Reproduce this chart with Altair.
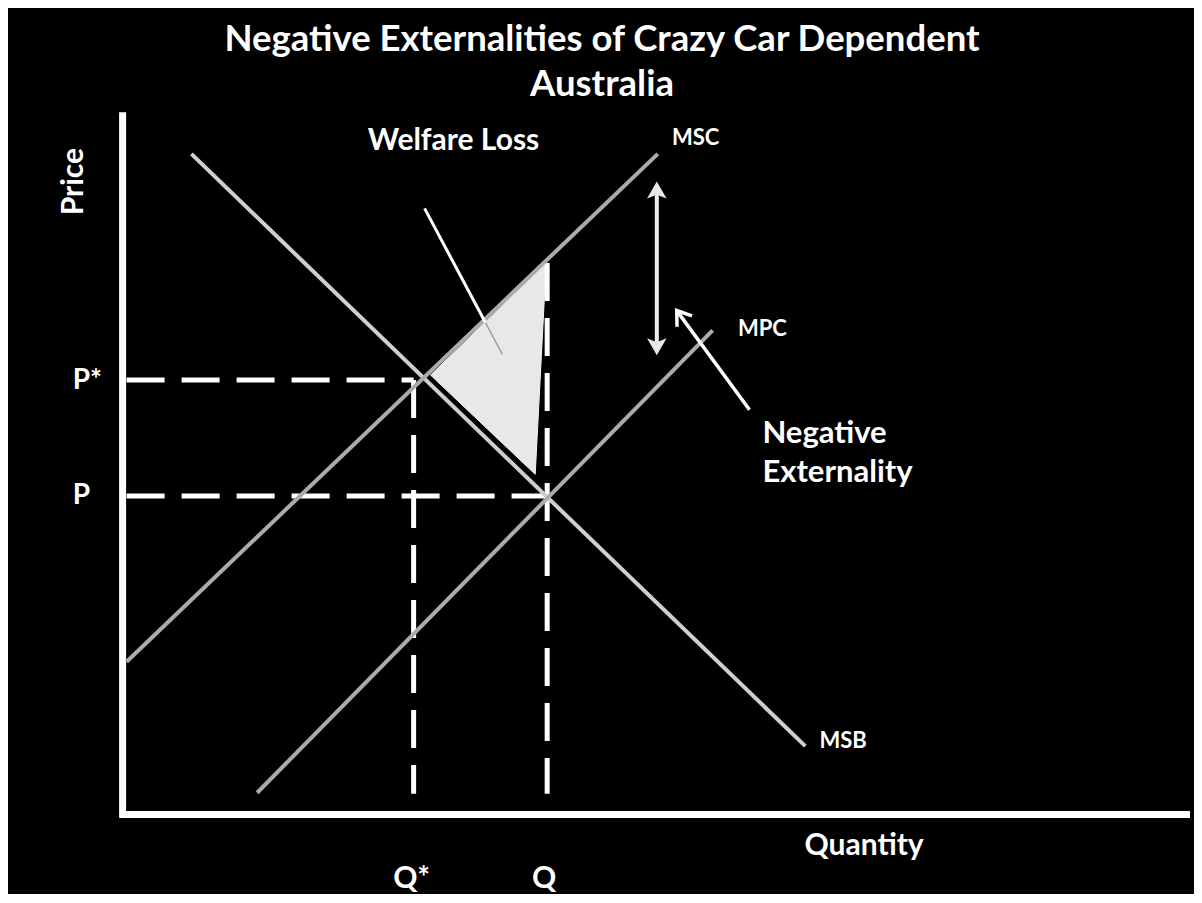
import altair as alt
import pandas as pd

# ---- diagram values (quantity / price units) ----
title_lines = ["Negative Externalities of Crazy Car Dependent", "Australia"]
title_y = [78.1, 73.5]

curve_names = ["MSB", "MSC", "MPC"]
curve_x0 = [6.9, 0.4, 13.5]
curve_y0 = [66.6, 15.4, 2.2]
curve_x1 = [68.5, 53.7, 59.2]
curve_y1 = [6.9, 66.6, 48.8]
curve_colors = ["#cfcfcf", "#ababab", "#ababab"]

curve_label_x = [72.3, 57.5, 64.2]
curve_label_y = [7.4, 68.2, 48.9]

q_star, q_eq = 29.2, 42.6
p_star, p_eq = 43.8, 32.1
dash_bottom = 2.1
q_top = 55.6
axis_left = 0.4

tri_x = [30.9, 42.5, 41.4]
tri_y = [44.3, 55.6, 34.3]

price_top = 70.8
x_right = 107.1

ext_arrow_x = 53.6
ext_arrow_top = 63.8
ext_arrow_bottom = 46.3

neg_tail = (62.9, 40.8)
neg_tip = (55.6, 50.8)

wl_pointer = [(30.3, 61.1), (36.4, 49.6)]
wl_faint = [(36.4, 49.6), (38.1, 46.4)]

xs = alt.Scale(domain=[-11.5, 107.1], nice=False, zero=False)
ys = alt.Scale(domain=[-7.3, 81.3], nice=False, zero=False)
FONT = "Lato"


def X(f="x"):
    return alt.X(f"{f}:Q", scale=xs, axis=None)


def Y(f="y"):
    return alt.Y(f"{f}:Q", scale=ys, axis=None)


layers = []

# axes lines
axes_df = pd.DataFrame({"x": [0, -0.3], "x2": [0, x_right], "y": [-0.3, 0], "y2": [price_top, 0]})
layers.append(alt.Chart(axes_df).mark_rule(color="white", strokeWidth=7).encode(
    x=X(), x2="x2:Q", y=Y(), y2="y2:Q"))

# welfare loss triangle
tri_df = pd.DataFrame({"x": tri_x, "y": tri_y, "o": [0, 1, 2]})
layers.append(alt.Chart(tri_df).mark_line(filled=True, fill="#e8e8e8", stroke="#f4f4f4", strokeWidth=1,
                                          interpolate="linear-closed").encode(
    x=X(), y=Y(), order="o:O"))

# dashed guide lines
dash_df = pd.DataFrame({
    "x": [axis_left, axis_left, q_star, q_eq],
    "x2": [q_star, q_eq, q_star, q_eq],
    "y": [p_star, p_eq, p_star, q_top],
    "y2": [p_star, p_eq, dash_bottom, dash_bottom],
})
layers.append(alt.Chart(dash_df).mark_rule(color="white", strokeWidth=5, strokeDash=[38, 17]).encode(
    x=X(), x2="x2:Q", y=Y(), y2="y2:Q"))

# curves
curve_df = pd.DataFrame({"name": curve_names, "x": curve_x0, "y": curve_y0,
                         "x2": curve_x1, "y2": curve_y1})
layers.append(alt.Chart(curve_df).mark_rule(strokeWidth=4).encode(
    x=X(), x2="x2:Q", y=Y(), y2="y2:Q",
    color=alt.Color("name:N", scale=alt.Scale(domain=curve_names, range=curve_colors), legend=None)))

# welfare loss pointer
wl_df = pd.DataFrame({"x": [wl_pointer[0][0]], "y": [wl_pointer[0][1]],
                      "x2": [wl_pointer[1][0]], "y2": [wl_pointer[1][1]]})
layers.append(alt.Chart(wl_df).mark_rule(color="white", strokeWidth=3).encode(
    x=X(), x2="x2:Q", y=Y(), y2="y2:Q"))
wlf_df = pd.DataFrame({"x": [wl_faint[0][0]], "y": [wl_faint[0][1]],
                       "x2": [wl_faint[1][0]], "y2": [wl_faint[1][1]]})
layers.append(alt.Chart(wlf_df).mark_rule(color="#9a9a9a", strokeWidth=1.5).encode(
    x=X(), x2="x2:Q", y=Y(), y2="y2:Q"))

# externality double arrow shaft
shaft_df = pd.DataFrame({"x": [ext_arrow_x], "y": [ext_arrow_top - 1.0], "y2": [ext_arrow_bottom + 1.0]})
layers.append(alt.Chart(shaft_df).mark_rule(color="#f0f0f0", strokeWidth=4).encode(
    x=X(), y=Y(), y2="y2:Q"))
head_path = "M0,0 L0.75,1.3 L0,1 L-0.75,1.3 Z"
heads_df = pd.DataFrame({"x": [ext_arrow_x, ext_arrow_x], "y": [ext_arrow_top, ext_arrow_bottom],
                         "a": [0, 180]})
layers.append(alt.Chart(heads_df).mark_point(shape=head_path, filled=True, color="#e8e8e8",
                                             size=680, opacity=1).encode(
    x=X(), y=Y(), angle=alt.Angle("a:Q", scale=None)))

# negative externality arrow
neg_df = pd.DataFrame({"x": [neg_tail[0]], "y": [neg_tail[1]], "x2": [neg_tip[0]], "y2": [neg_tip[1]]})
layers.append(alt.Chart(neg_df).mark_rule(color="white", strokeWidth=3.5).encode(
    x=X(), x2="x2:Q", y=Y(), y2="y2:Q"))
chev_df = pd.DataFrame({"x": [neg_tip[0]], "y": [neg_tip[1]], "a": [324]})
layers.append(alt.Chart(chev_df).mark_point(shape="M-0.7,1 L0,0 L0.7,1", filled=False, color="white",
                                            strokeWidth=3.5, size=700, opacity=1).encode(
    x=X(), y=Y(), angle=alt.Angle("a:Q", scale=None)))

# ---- texts ----
title_df = pd.DataFrame({"t": title_lines, "x": [48.1, 48.1], "y": title_y})
layers.append(alt.Chart(title_df).mark_text(font=FONT, fontWeight="bold", fontSize=36.5, color="white",
                                            align="center", baseline="middle").encode(
    x=X(), y=Y(), text="t:N"))

wl_df2 = pd.DataFrame({"t": ["Welfare Loss"], "x": [33.2], "y": [67.9]})
layers.append(alt.Chart(wl_df2).mark_text(font=FONT, fontWeight="bold", fontSize=30, color="white",
                                          align="center", baseline="middle").encode(
    x=X(), y=Y(), text="t:N"))

big_df = pd.DataFrame({
    "t": ["Quantity", "Q*", "Q"],
    "x": [74.4, 29.0, 42.3],
    "y": [-3.2, -6.5, -6.5],
})
layers.append(alt.Chart(big_df).mark_text(font=FONT, fontWeight="bold", fontSize=30, color="white",
                                          align="center", baseline="middle").encode(
    x=X(), y=Y(), text="t:N"))

neg_text_df = pd.DataFrame({"t": ["Negative", "Externality"], "x": [64.2, 64.2], "y": [38.4, 34.4]})
layers.append(alt.Chart(neg_text_df).mark_text(font=FONT, fontWeight="bold", fontSize=31, color="white",
                                               align="left", baseline="middle").encode(
    x=X(), y=Y(), text="t:N"))

p_df = pd.DataFrame({"t": ["P*", "P"], "x": [-5.0, -5.0], "y": [p_star - 0.1, p_eq]})
layers.append(alt.Chart(p_df).mark_text(font=FONT, fontWeight="bold", fontSize=28, color="white",
                                        align="left", baseline="middle").encode(
    x=X(), y=Y(), text="t:N"))

price_df = pd.DataFrame({"t": ["Price"], "x": [-4.9], "y": [63.8]})
layers.append(alt.Chart(price_df).mark_text(font=FONT, fontWeight="bold", fontSize=30, color="white",
                                            align="center", baseline="middle", angle=270).encode(
    x=X(), y=Y(), text="t:N"))

lab_df = pd.DataFrame({"t": curve_names, "x": curve_label_x, "y": curve_label_y})
layers.append(alt.Chart(lab_df).mark_text(font=FONT, fontWeight="bold", fontSize=22, color="white",
                                          align="center", baseline="middle").encode(
    x=X(), y=Y(), text="t:N"))

chart = alt.layer(*layers).properties(
    width=1186, height=886,
    autosize=alt.AutoSizeParams(type="fit", contains="padding"),
    padding=0, background="black",
).configure_view(stroke=None)

chart.save("out.html", embed_options={"renderer": "svg", "actions": False})
